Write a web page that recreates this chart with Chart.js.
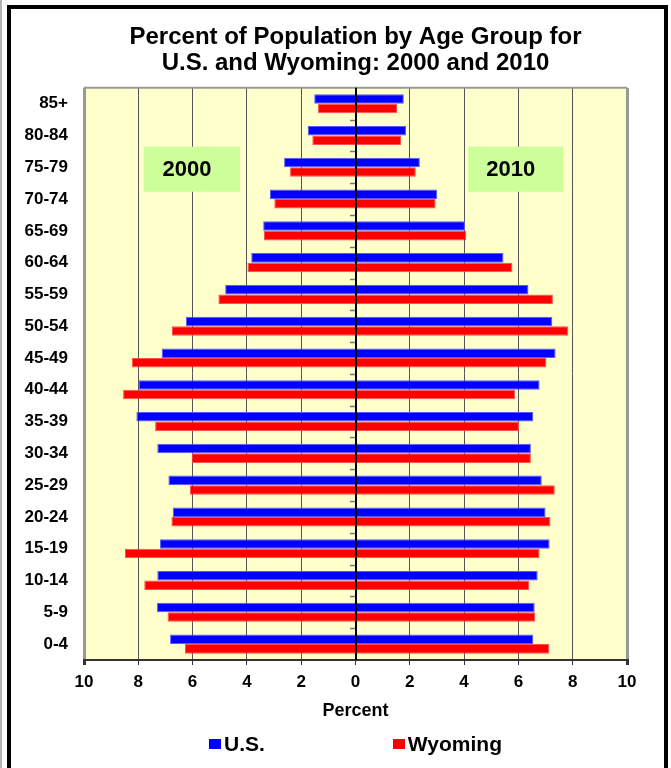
<!DOCTYPE html>
<html>
<head>
<meta charset="utf-8">
<title>Percent of Population by Age Group for U.S. and Wyoming: 2000 and 2010</title>
<script src="https://cdn.jsdelivr.net/npm/chart.js@4.4.1/dist/chart.umd.min.js"></script>
<style>
  html, body { margin: 0; padding: 0; background: #fff; overflow: hidden; }
  #wrap { position: relative; width: 671px; height: 768px; }
  #chart { position: absolute; left: 0; top: 0; }
  .edge { position: absolute; left: 0; top: 0; width: 2px; height: 768px; background: #b4b4b4; }
  .frame { position: absolute; left: 7px; top: 5px; width: 653px; height: 800px; border: 4px solid #000; border-bottom: none; pointer-events: none; }
</style>
</head>
<body>
<div id="wrap">
  <canvas id="chart" width="671" height="768"></canvas>
  <div class="edge"></div>
  <div class="frame"></div>
</div>
<script>
'use strict';

// --- DATA (top row first) ---
const ageGroups = ['85+', '80-84', '75-79', '70-74', '65-69', '60-64', '55-59', '50-54', '45-49',
                   '40-44', '35-39', '30-34', '25-29', '20-24', '15-19', '10-14', '5-9', '0-4'];

const us2000 = [1.52, 1.76, 2.63, 3.15, 3.40, 3.84, 4.80, 6.25, 7.14, 7.99, 8.07, 7.30, 6.89, 6.73, 7.20, 7.30, 7.31, 6.83];
const wy2000 = [1.38, 1.59, 2.41, 2.99, 3.37, 3.98, 5.05, 6.76, 8.24, 8.56, 7.38, 6.03, 6.10, 6.78, 8.49, 7.78, 6.92, 6.28];
const us2010 = [1.78, 1.86, 2.37, 3.01, 4.03, 5.45, 6.37, 7.25, 7.37, 6.78, 6.55, 6.46, 6.86, 7.00, 7.15, 6.71, 6.60, 6.55];
const wy2010 = [1.53, 1.68, 2.22, 2.95, 4.08, 5.78, 7.27, 7.84, 7.03, 5.88, 6.02, 6.46, 7.34, 7.18, 6.78, 6.40, 6.62, 7.14];

const seriesNames = ['U.S.', 'Wyoming'];
const yearNames = ['2000', '2010'];
const titleLines = ['Percent of Population by Age Group for', 'U.S. and Wyoming: 2000 and 2010'];
const axisTitle = 'Percent';

// --- STYLE ---
const FONT = '"Liberation Sans", Arial, Helvetica, sans-serif';
const seriesColors = ['#0000FF', '#FF0000'];
const seriesEdges = ['#5a5aff', '#ff5050'];

// year boxes in axis units (x = percent, y = category index)
const yearBoxes = [
    { text: yearNames[0], from: -7.8, to: -4.25, top: 1.35, bottom: 2.77 },
    { text: yearNames[1], from: 4.15, to: 7.65, top: 1.35, bottom: 2.77 }
];

Chart.defaults.font.family = FONT;

const plotDecor = {
    id: 'plotDecor',
    beforeDraw(chart) {
        const { ctx, chartArea: a } = chart;
        ctx.save();
        ctx.fillStyle = '#FFFFCC';
        ctx.fillRect(a.left, a.top, a.right - a.left, a.bottom - a.top);
        ctx.restore();
    },
    beforeDatasetsDraw(chart) {
        const { ctx, scales: { x, y } } = chart;
        ctx.save();
        yearBoxes.forEach(b => {
            const l = x.getPixelForValue(b.from);
            const r = x.getPixelForValue(b.to);
            const t = y.getPixelForValue(b.top);
            const btm = y.getPixelForValue(b.bottom);
            ctx.fillStyle = '#CCFF99';
            ctx.fillRect(l, t, r - l, btm - t);
            ctx.fillStyle = '#000';
            ctx.font = 'bold 22px ' + FONT;
            ctx.textAlign = 'center';
            ctx.textBaseline = 'middle';
            ctx.fillText(b.text, (l + r) / 2 - 5, (t + btm) / 2 + 1);
        });
        ctx.restore();
    },
    afterDatasetsDraw(chart) {
        const { ctx, chartArea: a, scales: { x, y } } = chart;
        const x0 = Math.round(x.getPixelForValue(0));
        ctx.save();
        // top edge of the plot
        ctx.strokeStyle = '#999';
        ctx.lineWidth = 2;
        ctx.beginPath();
        ctx.moveTo(a.left, a.top);
        ctx.lineTo(a.right, a.top);
        ctx.stroke();
        // small ticks on the zero line between age groups
        ctx.strokeStyle = '#777';
        ctx.lineWidth = 1.5;
        for (let i = 0; i < ageGroups.length - 1; i++) {
            const py = Math.round((y.getPixelForValue(i) + y.getPixelForValue(i + 1)) / 2) + 0.5;
            ctx.beginPath();
            ctx.moveTo(x0 - 6, py);
            ctx.lineTo(x0, py);
            ctx.stroke();
        }
        // zero line on top of the bars
        ctx.strokeStyle = '#000';
        ctx.lineWidth = 2;
        ctx.beginPath();
        ctx.moveTo(x0, a.top);
        ctx.lineTo(x0, a.bottom);
        ctx.stroke();
        ctx.restore();
    },
    afterDraw(chart) {
        // legend with wide spacing between the two entries
        const { ctx, chartArea: a } = chart;
        const boxW = 12, boxH = 10, gap = 3, itemGap = 128;
        ctx.save();
        ctx.font = 'bold 21px ' + FONT;
        const widths = seriesNames.map(n => boxW + gap + ctx.measureText(n).width);
        const total = widths.reduce((s, w) => s + w, 0) + itemGap * (seriesNames.length - 1);
        let lx = (a.left + a.right) / 2 - total / 2;
        const ly = a.bottom + 84;
        seriesNames.forEach((n, i) => {
            ctx.fillStyle = seriesColors[i];
            ctx.fillRect(Math.round(lx), ly - boxH / 2, boxW, boxH);
            ctx.fillStyle = '#000';
            ctx.textAlign = 'left';
            ctx.textBaseline = 'middle';
            ctx.fillText(n, lx + boxW + gap, ly + 1);
            lx += widths[i] + itemGap;
        });
        ctx.restore();
    }
};

function barSet(label, data, i, stack) {
    return {
        label: label,
        data: data,
        backgroundColor: seriesColors[i],
        borderColor: seriesEdges[i],
        borderWidth: 1,
        stack: stack,
        categoryPercentage: 0.6,
        barPercentage: 1.0
    };
}

new Chart(document.getElementById('chart').getContext('2d'), {
    type: 'bar',
    data: {
        labels: ageGroups,
        datasets: [
            barSet(seriesNames[0] + ' ' + yearNames[0], us2000.map(v => -v), 0, 'us'),
            barSet(seriesNames[0] + ' ' + yearNames[1], us2010, 0, 'us'),
            barSet(seriesNames[1] + ' ' + yearNames[0], wy2000.map(v => -v), 1, 'wy'),
            barSet(seriesNames[1] + ' ' + yearNames[1], wy2010, 1, 'wy')
        ]
    },
    options: {
        indexAxis: 'y',
        responsive: false,
        animation: false,
        layout: { padding: { top: 10, left: 10, right: 44, bottom: 38 } },
        plugins: {
            legend: { display: false },
            tooltip: { enabled: false },
            title: {
                display: true,
                fullSize: false,
                text: titleLines,
                color: '#000',
                font: { size: 24, weight: 'bold', lineHeight: 1.1 },
                padding: { top: 14, bottom: 11 }
            }
        },
        scales: {
            x: {
                stacked: true,
                min: -10,
                max: 10,
                ticks: {
                    stepSize: 2,
                    callback: v => Math.abs(v),
                    color: '#000',
                    font: { size: 17, weight: 'bold' },
                    padding: 7
                },
                grid: {
                    color: c => (Math.abs(c.tick.value) === 10 ? '#999' : '#555'),
                    lineWidth: c => (Math.abs(c.tick.value) === 10 ? 3 : 1),
                    tickLength: 5,
                    tickColor: '#333'
                },
                border: { color: '#333', width: 2 },
                title: {
                    display: true,
                    text: axisTitle,
                    color: '#000',
                    font: { size: 18, weight: 'bold' },
                    padding: { top: 0, bottom: 8 }
                },
                afterFit(scale) { scale.height = 70; }
            },
            y: {
                stacked: true,
                grid: { display: false, drawTicks: false },
                border: { display: false },
                ticks: {
                    color: '#000',
                    font: { size: 17, weight: 'bold' },
                    padding: 16
                },
                afterFit(scale) { scale.width = 74; }
            }
        }
    },
    plugins: [plotDecor]
});
</script>
</body>
</html>
